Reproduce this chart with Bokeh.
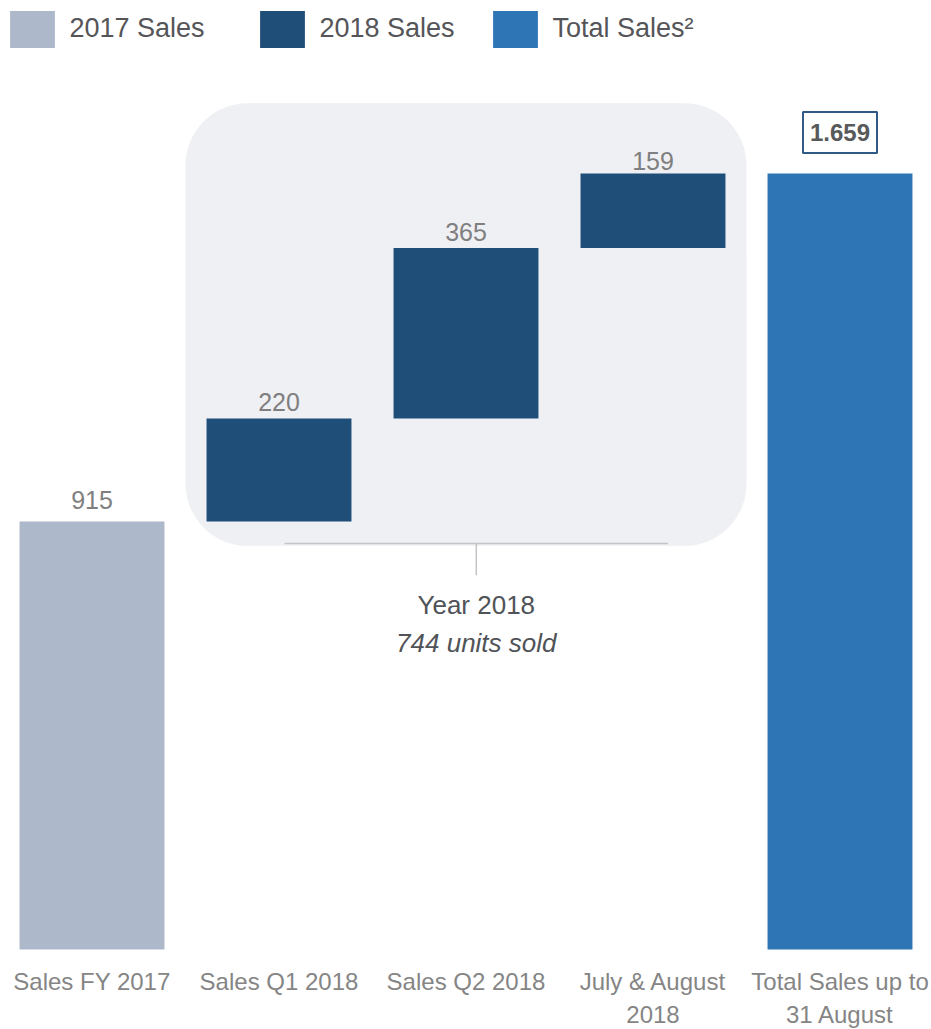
from bokeh.plotting import figure
from bokeh.models import ColumnDataSource, Range1d, Legend, LegendItem
from bokeh.core.properties import value
from bokeh.embed import file_html
from bokeh.resources import INLINE

# ---- data ----
categories = ["Sales FY 2017", "Sales Q1 2018", "Sales Q2 2018",
              "July & August\n2018", "Total Sales up to\n31 August"]
values = [915, 220, 365, 159]
total = 1659
series = ["2017 Sales", "2018 Sales", "2018 Sales", "2018 Sales", "Total Sales²"]
legend_labels = ["2017 Sales", "2018 Sales", "Total Sales²"]
group_title = "Year 2018"
group_subtitle = "744 units sold"

FONT = "Liberation Sans"
C2017, C2018, CTOT = "#adb9cb", "#1f4e79", "#2e75b6"

# waterfall geometry from data
bottoms, tops = [], []
run = 0
for i, v in enumerate(values):
    b = 0 if i == 0 else run
    bottoms.append(b)
    tops.append(b + v)
    run = b + v
bottoms.append(0)
tops.append(total)
xs = list(range(len(categories)))
labels = [str(v) for v in values] + [f"{total:,}".replace(",", ".")]

W = 0.775
p = figure(width=931, height=1029, output_backend="svg", toolbar_location=None,
           x_range=Range1d(-0.4893, 4.4893), y_range=Range1d(-171.0, 2028.9),
           min_border=0, outline_line_color=None, background_fill_color="white",
           border_fill_color="white")
p.axis.visible = False
p.grid.visible = False

# rounded background for 2018 group
g_left, g_right = 0.5, 3.5
p.quad(left=[g_left], right=[g_right], bottom=[tops[0] - 52], top=[total + 150],
       fill_color="#eff0f4", line_color=None, border_radius=62)

# bracket under the group
mid = 2.055
yb = tops[0] - 47
p.segment(x0=[1.03, mid], y0=[yb, yb], x1=[3.08, mid], y1=[yb, yb - 68],
          line_color="#c4c4c4", line_width=1.5)
p.text(x=[mid], y=[yb - 68], text=[group_title], text_font=value(FONT),
       text_font_size="26px", text_color="#505358", text_align="center",
       text_baseline="middle", y_offset=30)
p.text(x=[mid], y=[yb - 68], text=[group_subtitle], text_font=value(FONT),
       text_font_size="26px", text_font_style="italic", text_color="#505358",
       text_align="center", text_baseline="middle", y_offset=68)

renderers = {}
colors = {"2017 Sales": C2017, "2018 Sales": C2018, "Total Sales²": CTOT}
for s in legend_labels:
    idx = [i for i in xs if series[i] == s]
    src = ColumnDataSource(dict(x=[xs[i] for i in idx],
                                bottom=[bottoms[i] for i in idx],
                                top=[tops[i] for i in idx]))
    renderers[s] = p.vbar(x="x", bottom="bottom", top="top", width=W, source=src,
                          fill_color=colors[s], line_color=None)

# value labels
offs = [-22, -17, -16, -13]
p.text(x=xs[:4], y=tops[:4], text=labels[:4], text_font=value(FONT),
       text_font_size="25px", text_color="#7f7f7f", text_align="center",
       text_baseline="alphabetic", y_offset=offs)
p.text(x=[xs[4]], y=[tops[4]], text=[labels[4]], text_font=value(FONT),
       text_font_size="24px", text_font_style="bold", text_color="#58595b",
       text_align="center", text_baseline="middle", y_offset=-41,
       border_line_color="#2f5a85", border_line_width=2, padding=(7, 12),
       background_fill_color="white")

# category labels
p.text(x=xs, y=[0] * len(xs), text=categories, text_font=value(FONT),
       text_font_size="24px", text_color="#858585", text_align="center",
       text_baseline="top", y_offset=18, text_line_height=1.25)

# legends
pos = [(4.4, 977.5), (254.4, 977.5), (487.4, 977.5)]
for s, (lx, ly) in zip(legend_labels, pos):
    lg = Legend(items=[LegendItem(label=s, renderers=[renderers[s]])],
                location=(lx, ly), orientation="horizontal",
                glyph_width=56, glyph_height=46, label_standoff=9,
                label_text_font=FONT, label_text_font_size="27px",
                label_text_color="#555559", padding=0, margin=0,
                border_line_color=None, background_fill_alpha=0,
                label_height=46)
    p.add_layout(lg, "center")

open("out.html", "w").write(file_html(p, INLINE))
